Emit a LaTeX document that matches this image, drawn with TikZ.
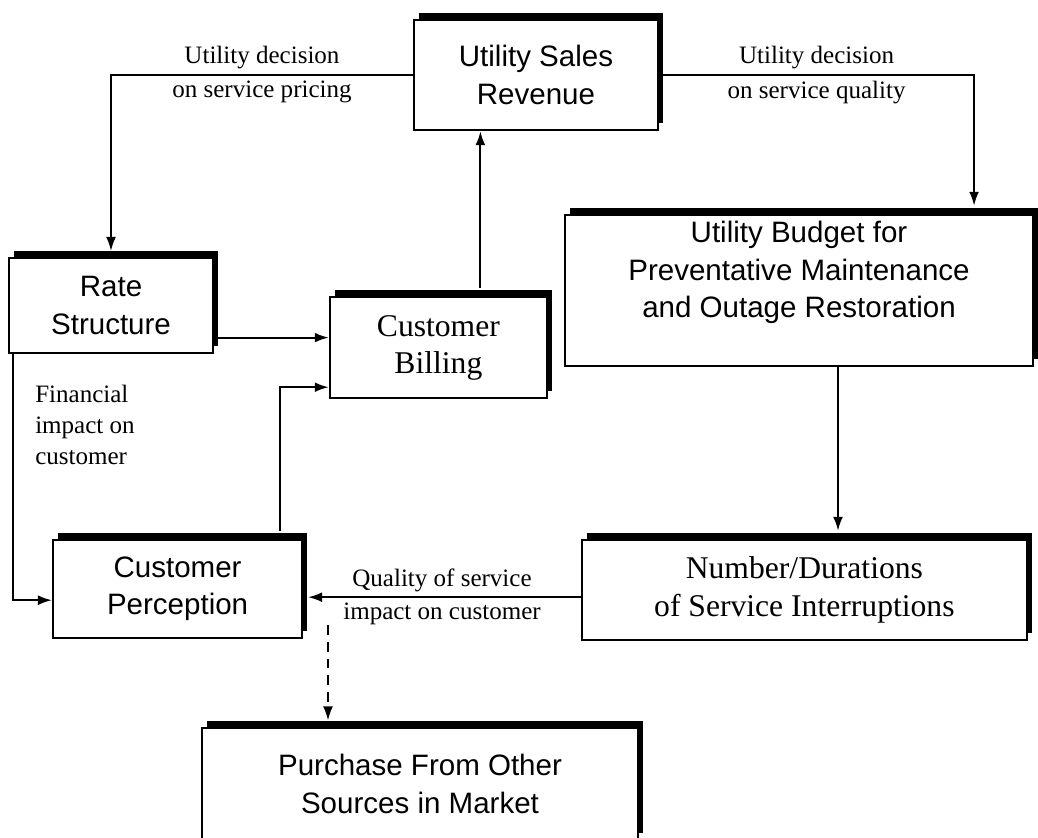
\documentclass[tikz,border=0pt]{standalone}
\usepackage{fontspec}
\setmainfont{Liberation Serif}
\newfontfamily\boxsans{Liberation Sans}
\usetikzlibrary{arrows.meta, calc, shadows}

\begin{document}
\begin{tikzpicture}[
        box/.style={rectangle, draw, line width=1.5pt, fill=white, align=center, inner sep=2pt,
                    drop shadow={shadow xshift=0.12cm, shadow yshift=0.17cm, fill=black, opacity=1}},
        sansbox/.style={box, font=\boxsans\fontsize{21}{26.5}\selectfont},
        serifbox/.style={box, font=\fontsize{22.5}{26.5}\selectfont},
        lbl/.style={font=\fontsize{17.8}{22}\selectfont},
        arrow/.style={-{Latex[length=10pt, width=7pt]}, line width=1.5pt},
        dasharrow/.style={arrow, dash pattern=on 7pt off 5pt}
    ]
        \useasboundingbox (0,0) rectangle (25.95,-20.925);

        % Boxes
        \node[sansbox, minimum width=6.1cm, minimum height=2.75cm] (sales) at (13.4,-1.875) {Utility Sales\\Revenue};
        \node[sansbox, minimum width=5.1cm, minimum height=2.375cm] (rate) at (2.775,-7.64) {Rate\\Structure};
        \node[serifbox, minimum width=5.425cm, minimum height=2.525cm] (billing) at (10.96,-8.69) {Customer\\Billing};
        \node[sansbox, minimum width=11.7cm, minimum height=3.775cm, text depth=1.05cm] (budget) at (19.975,-7.26) {Utility Budget for\\Preventative Maintenance\\and Outage Restoration};
        \node[sansbox, minimum width=6.225cm, minimum height=2.45cm] (perception) at (4.44,-14.725) {Customer\\Perception};
        \node[serifbox, minimum width=11.125cm, minimum height=2.5cm] (number) at (20.11,-14.75) {Number/Durations\\of Service Interruptions};
        \node[sansbox, minimum width=10.9cm, minimum height=2.8cm] (purchase) at (10.5,-19.6) {Purchase From Other\\Sources in Market};

        % Utility decisions
        \draw[arrow, shorten >=0.15cm] (sales.west) -| node[lbl, pos=0.25, above] (pricingtop) {Utility decision}
            node[lbl, pos=0.25, below] (pricingbot) {on service pricing} (rate.north);
        \draw[arrow, shorten >=0.2cm] (sales.east) -| node[lbl, pos=0.25, above] (qualitytop) {Utility decision}
            node[lbl, pos=0.25, below] (qualitybot) {on service quality} ($(budget.north east)+(-1.5,0)$);

        % Billing
        \draw[arrow, shorten <=0.2cm] ([xshift=1.05cm]billing.north) -- ([xshift=1.05cm]billing.north |- sales.south);
        \draw[arrow] ([yshift=-0.8cm]rate.east) -- ([yshift=-0.8cm]rate.east -| billing.west);
        \draw[arrow, shorten <=0.2cm] ([xshift=2.56cm]perception.north) |- ([yshift=-0.99cm]billing.west);

        % Financial impact
        \draw[arrow] ([xshift=0.125cm]rate.south west) |- ([yshift=-0.28cm]perception.west);
        \node[lbl, align=left, anchor=north west, inner sep=0pt] (financial) at (0.875,-9.62) {Financial\\impact on\\customer};

        % Service quality
        \draw[arrow, shorten >=0.2cm] ([xshift=0.975cm]budget.south) -- ([xshift=0.975cm]budget.south |- number.north);
        \draw[arrow, shorten >=0.12cm] ([yshift=-0.18cm]number.west) -- node[lbl, above] (qostop) {Quality of service}
            node[lbl, below] (qosbot) {impact on customer} ([yshift=-0.18cm]number.west -| perception.east);

        % Other sources
        \coordinate (dashstart) at (8.2,-15.62);
        \draw[dasharrow, shorten >=0.16cm] (dashstart) -- (dashstart |- purchase.north);
    \end{tikzpicture}
\end{document}
